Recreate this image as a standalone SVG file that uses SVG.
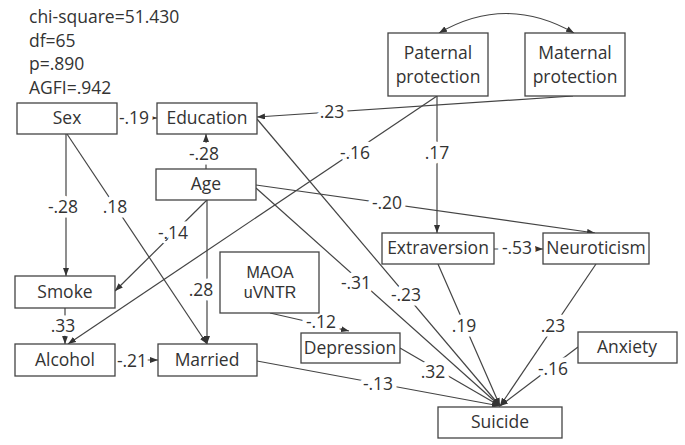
<svg xmlns="http://www.w3.org/2000/svg" width="685" height="445" viewBox="0 0 685 445">
<defs>
<marker id="ah" markerUnits="userSpaceOnUse" markerWidth="8" markerHeight="6" refX="8" refY="3" orient="auto-start-reverse">
<path d="M0,0 L8,3 L0,6 z" fill="#333"/>
</marker>
<style>
rect.n{fill:#fff;stroke:#444;stroke-width:1.3}
text{font-family:"Open Sans","Noto Sans",sans-serif;fill:#333;font-size:17.5px;text-anchor:middle}
text.st{text-anchor:start}
text.ar{font-family:"Liberation Sans",Arial,sans-serif;font-size:16px}
#edges line,#edges path{stroke:#444;stroke-width:1.2;fill:none;marker-end:url(#ah)}
#labels text{stroke:#fff;stroke-width:9;paint-order:stroke fill;stroke-linejoin:round}
</style>
</defs>
<rect width="685" height="445" fill="#fff"/>
<g id="stats">
<text class="st" x="29" y="23">chi-square=51.430</text>
<text class="st" x="29" y="47">df=65</text>
<text class="st" x="29" y="70">p=.890</text>
<text class="st" x="29" y="94">AGFI=.942</text>
</g>
<g id="edges">
<path d="M439,33 Q506,-6 574,33" marker-start="url(#ah)"/>
<line x1="117" y1="118" x2="157" y2="118"/>
<line x1="573" y1="96" x2="257" y2="117"/>
<line x1="437" y1="96" x2="68" y2="344"/>
<line x1="437" y1="96" x2="437" y2="233"/>
<line x1="206" y1="169" x2="206" y2="134"/>
<line x1="66" y1="134" x2="66" y2="276"/>
<line x1="67" y1="134" x2="207" y2="344"/>
<line x1="207" y1="200" x2="115" y2="291"/>
<line x1="207" y1="200" x2="207" y2="344"/>
<line x1="256" y1="185" x2="595" y2="233"/>
<line x1="256" y1="188" x2="500" y2="406"/>
<line x1="257" y1="119" x2="500" y2="406"/>
<line x1="65" y1="308" x2="65" y2="344"/>
<line x1="115" y1="360" x2="158" y2="360"/>
<line x1="257" y1="361" x2="500" y2="406"/>
<line x1="270" y1="313" x2="349" y2="331"/>
<line x1="400" y1="348" x2="500" y2="406"/>
<line x1="438" y1="264" x2="500" y2="406"/>
<line x1="494" y1="249" x2="543" y2="249"/>
<line x1="596" y1="264" x2="500" y2="406"/>
<line x1="578" y1="347" x2="500" y2="406"/>
</g>
<g id="labels">
<text x="134" y="124">-.19</text>
<text x="332" y="118">.23</text>
<text x="355" y="159">-.16</text>
<text x="437" y="159">.17</text>
<text x="204" y="160">-.28</text>
<text x="63" y="213">-.28</text>
<text x="115" y="213">.18</text>
<text x="173" y="239">-.14</text>
<text x="201" y="296">.28</text>
<text x="387" y="209">-.20</text>
<text x="356" y="289">-.31</text>
<text x="406" y="301">-.23</text>
<text x="63" y="332">.33</text>
<text x="132" y="367">-.21</text>
<text x="378" y="390">-.13</text>
<text x="321" y="328">-.12</text>
<text x="433" y="378">.32</text>
<text x="464" y="332">.19</text>
<text x="517" y="254">-.53</text>
<text x="553" y="332">.23</text>
<text x="553" y="375">-.16</text>
</g>
<g id="sex"><rect class="n" x="17" y="103" width="100" height="31"/><text x="67" y="124">Sex</text></g>
<g id="education"><rect class="n" x="157" y="103" width="100" height="31"/><text x="207" y="124">Education</text></g>
<g id="age"><rect class="n" x="156" y="169" width="100" height="31"/><text x="206" y="190">Age</text></g>
<g id="paternal"><rect class="n" x="388" y="33" width="100" height="63"/><text x="438" y="59">Paternal</text><text x="438" y="83">protection</text></g>
<g id="maternal"><rect class="n" x="525" y="33" width="100" height="63"/><text x="575" y="59">Maternal</text><text x="575" y="83">protection</text></g>
<g id="smoke"><rect class="n" x="15" y="276" width="100" height="32"/><text x="65" y="298">Smoke</text></g>
<g id="alcohol"><rect class="n" x="15" y="344" width="100" height="32"/><text x="65" y="366">Alcohol</text></g>
<g id="married"><rect class="n" x="158" y="344" width="99" height="32"/><text x="207" y="366">Married</text></g>
<g id="maoa"><rect class="n" x="220" y="252" width="99" height="61"/><text class="ar" x="270" y="278">MAOA</text><text class="ar" x="270" y="298">uVNTR</text></g>
<g id="depression"><rect class="n" x="301" y="333" width="99" height="30"/><text x="350" y="354">Depression</text></g>
<g id="extraversion"><rect class="n" x="382" y="233" width="112" height="31"/><text x="438" y="254">Extraversion</text></g>
<g id="neuroticism"><rect class="n" x="543" y="233" width="106" height="31"/><text x="596" y="254">Neuroticism</text></g>
<g id="anxiety"><rect class="n" x="578" y="332" width="99" height="31"/><text x="627" y="353">Anxiety</text></g>
<g id="suicide"><rect class="n" x="438" y="407" width="124" height="31"/><text x="500" y="428">Suicide</text></g>
</svg>
